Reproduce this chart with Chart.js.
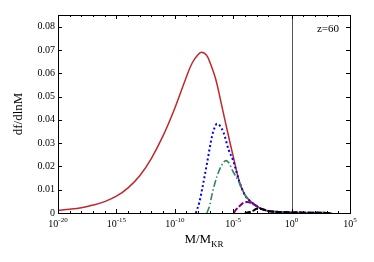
<!DOCTYPE html>
<html>
<head>
<meta charset="utf-8">
<script src="https://cdn.jsdelivr.net/npm/chart.js@4"></script>
<style>
  html, body { margin: 0; padding: 0; background: #fff; }
  #wrap { width: 374px; height: 262px; }
</style>
</head>
<body>
<div id="wrap"><canvas id="massChart" width="374" height="262"></canvas></div>
<script>
// x values are log10(M/M_KR)
const redX = [-20,-19,-18,-17,-16,-15,-14,-13,-12,-11,-10,-9,-8.5,-8,-7.7,-7.3,-7,-6.5,-6,-5.5,-5,-4.5,-4,-3.5,-3,-2.5,-2,-1,0,1,2,3,3.4];
const redY = [0.0011,0.0016,0.0023,0.0034,0.0049,0.0072,0.0108,0.0160,0.0235,0.0332,0.0450,0.0585,0.0645,0.0680,0.0690,0.0678,0.0648,0.0575,0.0465,0.0352,0.0243,0.0140,0.0078,0.0050,0.0030,0.0016,0.0009,0.0004,0.00025,0.00015,0.0001,0.00005,0];

const blueX = [-8.2,-7.9,-7.67,-7.24,-6.82,-6.6,-6.39,-6.1,-5.81,-5.39,-5,-4.5,-4,-3.5,-3,-2.5,-2,-1,0,1,2,3,3.4];
const blueY = [0,0.0045,0.0100,0.0214,0.0328,0.0365,0.0383,0.0372,0.0343,0.0271,0.0225,0.0138,0.0077,0.0049,0.0030,0.0016,0.0009,0.0004,0.00025,0.00015,0.0001,0.00005,0];

const greenX = [-7.25,-7.0,-6.82,-6.39,-5.96,-5.62,-5.3,-5.1,-4.53,-4.2,-4,-3.5,-3,-2.5,-2,-1,0,1,2,3,3.4];
const greenY = [0,0.0035,0.0078,0.0157,0.0207,0.0225,0.0210,0.0186,0.0135,0.0096,0.0077,0.0049,0.0030,0.0016,0.0009,0.0004,0.00025,0.00015,0.0001,0.00005,0];

const purpleX = [-4.95,-4.76,-4.4,-4.13,-3.84,-3.5,-3.2,-3.0,-2.5,-2,-1,0,1,2,3,3.4];
const purpleY = [0,0.0014,0.0032,0.0043,0.0047,0.0044,0.0036,0.0030,0.0016,0.0009,0.0004,0.00025,0.00015,0.0001,0.00005,0];

const blackX = [-4.0,-3.6,-3.28,-2.99,-2.7,-2.5,-2,-1,0,1,2,3,3.4];
const blackY = [0,0.0004,0.0010,0.0018,0.0018,0.0016,0.0009,0.0004,0.00025,0.00015,0.0001,0.00005,0];

const xTickExps = [-20,-15,-10,-5,0,5];
const xMinorExps = [-19,-18,-17,-16,-14,-13,-12,-11,-9,-8,-7,-6,-4,-3,-2,-1,1,2,3,4];
const yTickValues = [0,0.01,0.02,0.03,0.04,0.05,0.06,0.07,0.08];
const refLineExp = 0;
const panelLabel = "z=60";

const serif = "'Liberation Serif', 'DejaVu Serif', serif";

function toPoints(xs, ys) {
  return xs.map((x, i) => ({ x: x, y: ys[i] }));
}

// frame, inward ticks, x labels, titles
const decorations = {
  id: 'decorations',
  afterDraw(chart) {
    const c = chart.ctx;
    const a = chart.chartArea;
    const xs = chart.scales.x;
    const ys = chart.scales.y;
    c.save();

    // vertical reference line at M = M_KR
    const xr = Math.round(xs.getPixelForValue(refLineExp)) + 0.5;
    c.strokeStyle = '#555';
    c.lineWidth = 1;
    c.beginPath();
    c.moveTo(xr, a.top);
    c.lineTo(xr, a.bottom);
    c.stroke();

    // frame
    c.strokeStyle = '#000';
    c.lineWidth = 1;
    c.strokeRect(Math.round(a.left) + 0.5, Math.round(a.top) + 0.5,
      Math.round(a.right - a.left), Math.round(a.bottom - a.top));

    // ticks
    c.beginPath();
    xTickExps.forEach(e => {
      const px = Math.round(xs.getPixelForValue(e)) + 0.5;
      c.moveTo(px, a.bottom); c.lineTo(px, a.bottom - 4);
      c.moveTo(px, a.top); c.lineTo(px, a.top + 4);
    });
    xMinorExps.forEach(e => {
      const px = Math.round(xs.getPixelForValue(e)) + 0.5;
      c.moveTo(px, a.bottom); c.lineTo(px, a.bottom - 2);
      c.moveTo(px, a.top); c.lineTo(px, a.top + 2);
    });
    yTickValues.forEach(v => {
      const py = Math.round(ys.getPixelForValue(v)) + 0.5;
      c.moveTo(a.left, py); c.lineTo(a.left + 4, py);
      c.moveTo(a.right, py); c.lineTo(a.right - 4, py);
    });
    c.stroke();

    // x tick labels 10^n
    c.fillStyle = '#000';
    c.textBaseline = 'alphabetic';
    xTickExps.forEach(e => {
      const px = xs.getPixelForValue(e);
      c.font = '10px ' + serif;
      const wBase = c.measureText('10').width;
      c.font = '7px ' + serif;
      const sup = String(e);
      const wSup = c.measureText(sup).width;
      const x0 = px - (wBase + wSup) / 2;
      c.font = '10px ' + serif;
      c.textAlign = 'left';
      c.fillText('10', x0, a.bottom + 14);
      c.font = '7px ' + serif;
      c.fillText(sup, x0 + wBase, a.bottom + 9);
    });

    // x title M/M_KR
    c.font = '13px ' + serif;
    const wMain = c.measureText('M/M').width;
    c.font = '9px ' + serif;
    const wSub = c.measureText('KR').width;
    const cx = (a.left + a.right) / 2;
    const tx = cx - (wMain + wSub) / 2;
    c.font = '13px ' + serif;
    c.fillText('M/M', tx, a.bottom + 30);
    c.font = '9px ' + serif;
    c.fillText('KR', tx + wMain, a.bottom + 34);

    // y title
    c.save();
    c.translate(22, (a.top + a.bottom) / 2);
    c.rotate(-Math.PI / 2);
    c.font = '13px ' + serif;
    c.textAlign = 'center';
    c.fillText('df/dlnM', 0, 0);
    c.restore();

    // panel label
    c.font = '11px ' + serif;
    c.textAlign = 'right';
    c.fillText(panelLabel, a.right - 11, a.top + 17);

    c.restore();
  }
};

const ctx = document.getElementById('massChart').getContext('2d');

const lineBase = {
  pointRadius: 0,
  fill: false,
  cubicInterpolationMode: 'monotone'
};

new Chart(ctx, {
  type: 'line',
  data: {
    datasets: [
      { ...lineBase, data: toPoints(blackX, blackY), borderColor: '#000000', borderWidth: 2, borderDash: [6, 2] },
      { ...lineBase, data: toPoints(purpleX, purpleY), borderColor: '#800080', borderWidth: 2, borderDash: [6, 2] },
      { ...lineBase, data: toPoints(greenX, greenY), borderColor: '#2e8b57', borderWidth: 1.6, borderDash: [7, 2.5, 1.5, 2.5] },
      { ...lineBase, data: toPoints(blueX, blueY), borderColor: '#0000ff', borderWidth: 2, borderDash: [2, 2.5] },
      { pointRadius: 0, fill: false, tension: 0.4, data: toPoints(redX, redY), borderColor: '#c1272d', borderWidth: 1.5 }
    ]
  },
  options: {
    responsive: false,
    animation: false,
    events: [],
    layout: { padding: { left: 0, top: 15, right: 24, bottom: 0 } },
    plugins: { legend: { display: false }, tooltip: { enabled: false } },
    scales: {
      x: {
        type: 'linear',
        min: -20,
        max: 5,
        grid: { display: false, drawTicks: false },
        border: { display: false },
        ticks: { display: false },
        afterFit(scale) { scale.height = 49; }
      },
      y: {
        min: 0,
        max: 0.085,
        grid: { display: false, drawTicks: false },
        border: { display: false },
        afterBuildTicks(scale) {
          scale.ticks = yTickValues.map(v => ({ value: v }));
        },
        ticks: {
          color: '#000',
          padding: 3,
          font: { family: serif, size: 10 },
          callback: v => v === 0 ? '0' : v.toFixed(2)
        },
        afterFit(scale) { scale.width = 58; }
      }
    }
  },
  plugins: [decorations]
});
</script>
</body>
</html>
